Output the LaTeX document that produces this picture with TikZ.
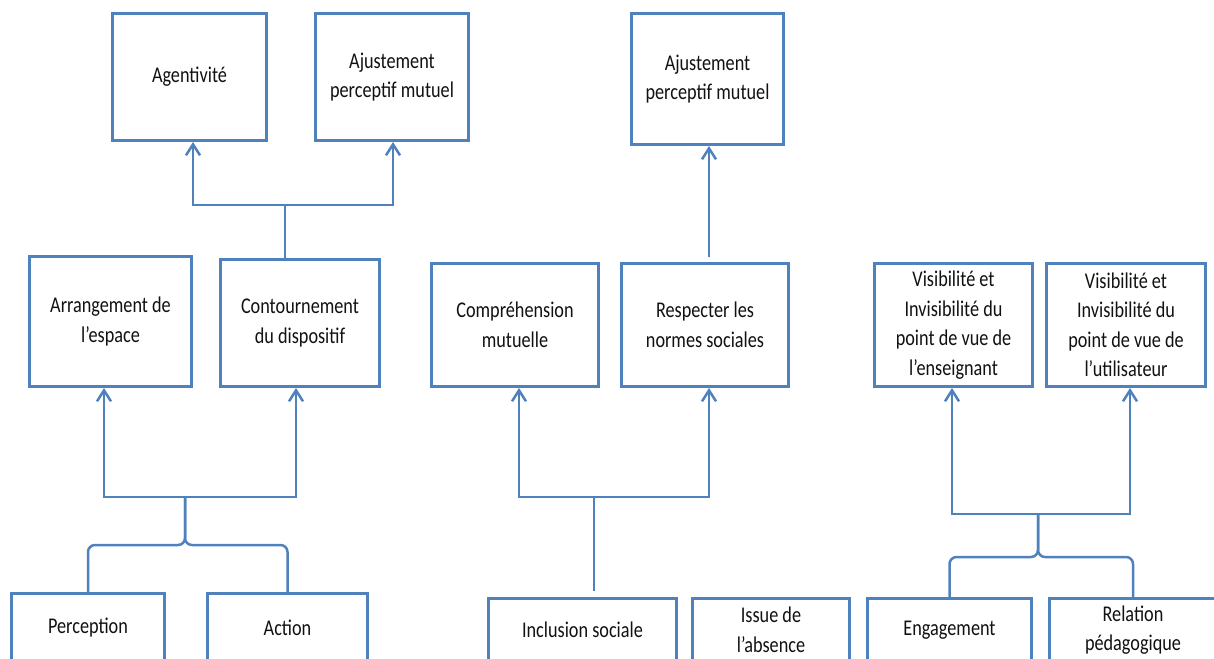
\documentclass[tikz,border=0pt]{standalone}
\usepackage{fontspec}
\setmainfont{Carlito}[FakeStretch=0.81]
\usetikzlibrary{arrows.meta}
\definecolor{bl}{HTML}{4F81BD}
\definecolor{tx}{HTML}{111111}
\begin{document}
\begin{tikzpicture}[x=1pt,y=-1pt,
  box/.style={draw=bl,line width=3pt,align=center,inner sep=0pt,text=tx,
    font=\fontsize{22.5}{29.5}\selectfont},
  link/.style={draw=bl,line width=2.5pt},
  arr/.style={link,-{Straight Barb[length=11pt,width=14pt,line width=2.5pt]}},
  brace/.style={link,rounded corners=7pt}]
\useasboundingbox (0,0) rectangle (1214,658);
\clip (0,0) rectangle (1214,658);
% row 1
\node[box,minimum width=154pt,minimum height=127pt] (agent) at (189.5,77) {Agentivité};
\node[box,minimum width=153pt,minimum height=127pt] (ajL) at (392,77) {Ajustement\\perceptif mutuel};
\node[box,minimum width=152pt,minimum height=131pt] (ajR) at (707.5,79) {Ajustement\\perceptif mutuel};
% row 2
\node[box,minimum width=162pt,minimum height=130pt] (arrang) at (110.5,321.5) {Arrangement de\\l’espace};
\node[box,minimum width=159pt,minimum height=127pt] (contour) at (300,323) {Contournement\\du dispositif};
\node[box,minimum width=167pt,minimum height=123pt] (compr) at (515,325) {Compréhension\\mutuelle};
\node[box,minimum width=167pt,minimum height=123pt] (respect) at (705,325) {Respecter les\\normes sociales};
\node[box,minimum width=158pt,minimum height=123pt] (visE) at (953.5,325) {Visibilité et\\Invisibilité du\\point de vue de\\l’enseignant};
\node[box,minimum width=159pt,minimum height=123pt] (visU) at (1126,325) {Visibilité et\\Invisibilité du\\point de vue de\\l’utilisateur};
% row 3
\node[box,minimum width=153pt,minimum height=69pt] (percep) at (88,628) {Perception};
\node[box,minimum width=160pt,minimum height=69pt] (action) at (287.5,628) {Action};
\node[box,minimum width=188pt,minimum height=63pt] (incl) at (582.5,630) {Inclusion sociale};
\node[box,minimum width=157pt,minimum height=63pt] (issue) at (771,630) {Issue de\\l’absence};
\node[box,minimum width=164pt,minimum height=63pt] (engag) at (949.5,630) {Engagement};
\node[box,minimum width=167pt,minimum height=63pt] (relat) at (1133,630) {Relation\\pédagogique};
% left group, top
\coordinate (j1) at (285,205);
\draw[link] (contour.north -| j1) -- (j1);
\draw[arr] (j1) -| ([xshift=3.5pt]agent.south);
\draw[arr] (j1) -| ([xshift=1pt]ajL.south);
% left group, bottom
\coordinate (j2) at (185,497);
\coordinate (b2) at (185,545);
\draw[arr] (j2) -| ([xshift=-6.5pt]arrang.south);
\draw[arr] (j2) -| ([xshift=-4pt]contour.south);
\draw[brace] (j2) -- (b2) -| (percep.north);
\draw[brace] (j2) -- (b2) -| (action.north);
% middle group
\draw[arr] (respect.north) ++(4,-5) coordinate (m0) -- (m0 |- ajR.south);
\coordinate (j3) at (594,497);
\draw[arr] (j3) -| ([xshift=4pt]compr.south);
\draw[arr] (j3) -| ([xshift=4pt]respect.south);
\coordinate (j3e) at (594,591);
\draw[link] (j3) -- (j3e);
% right group
\coordinate (j4) at (1038,514);
\coordinate (b4) at (1038,557);
\draw[arr] (j4) -| ([xshift=-1.5pt]visE.south);
\draw[arr] (j4) -| ([xshift=4pt]visU.south);
\draw[brace] (j4) -- (b4) -| (engag.north);
\draw[brace] (j4) -- (b4) -| (relat.north);
\end{tikzpicture}
\end{document}
